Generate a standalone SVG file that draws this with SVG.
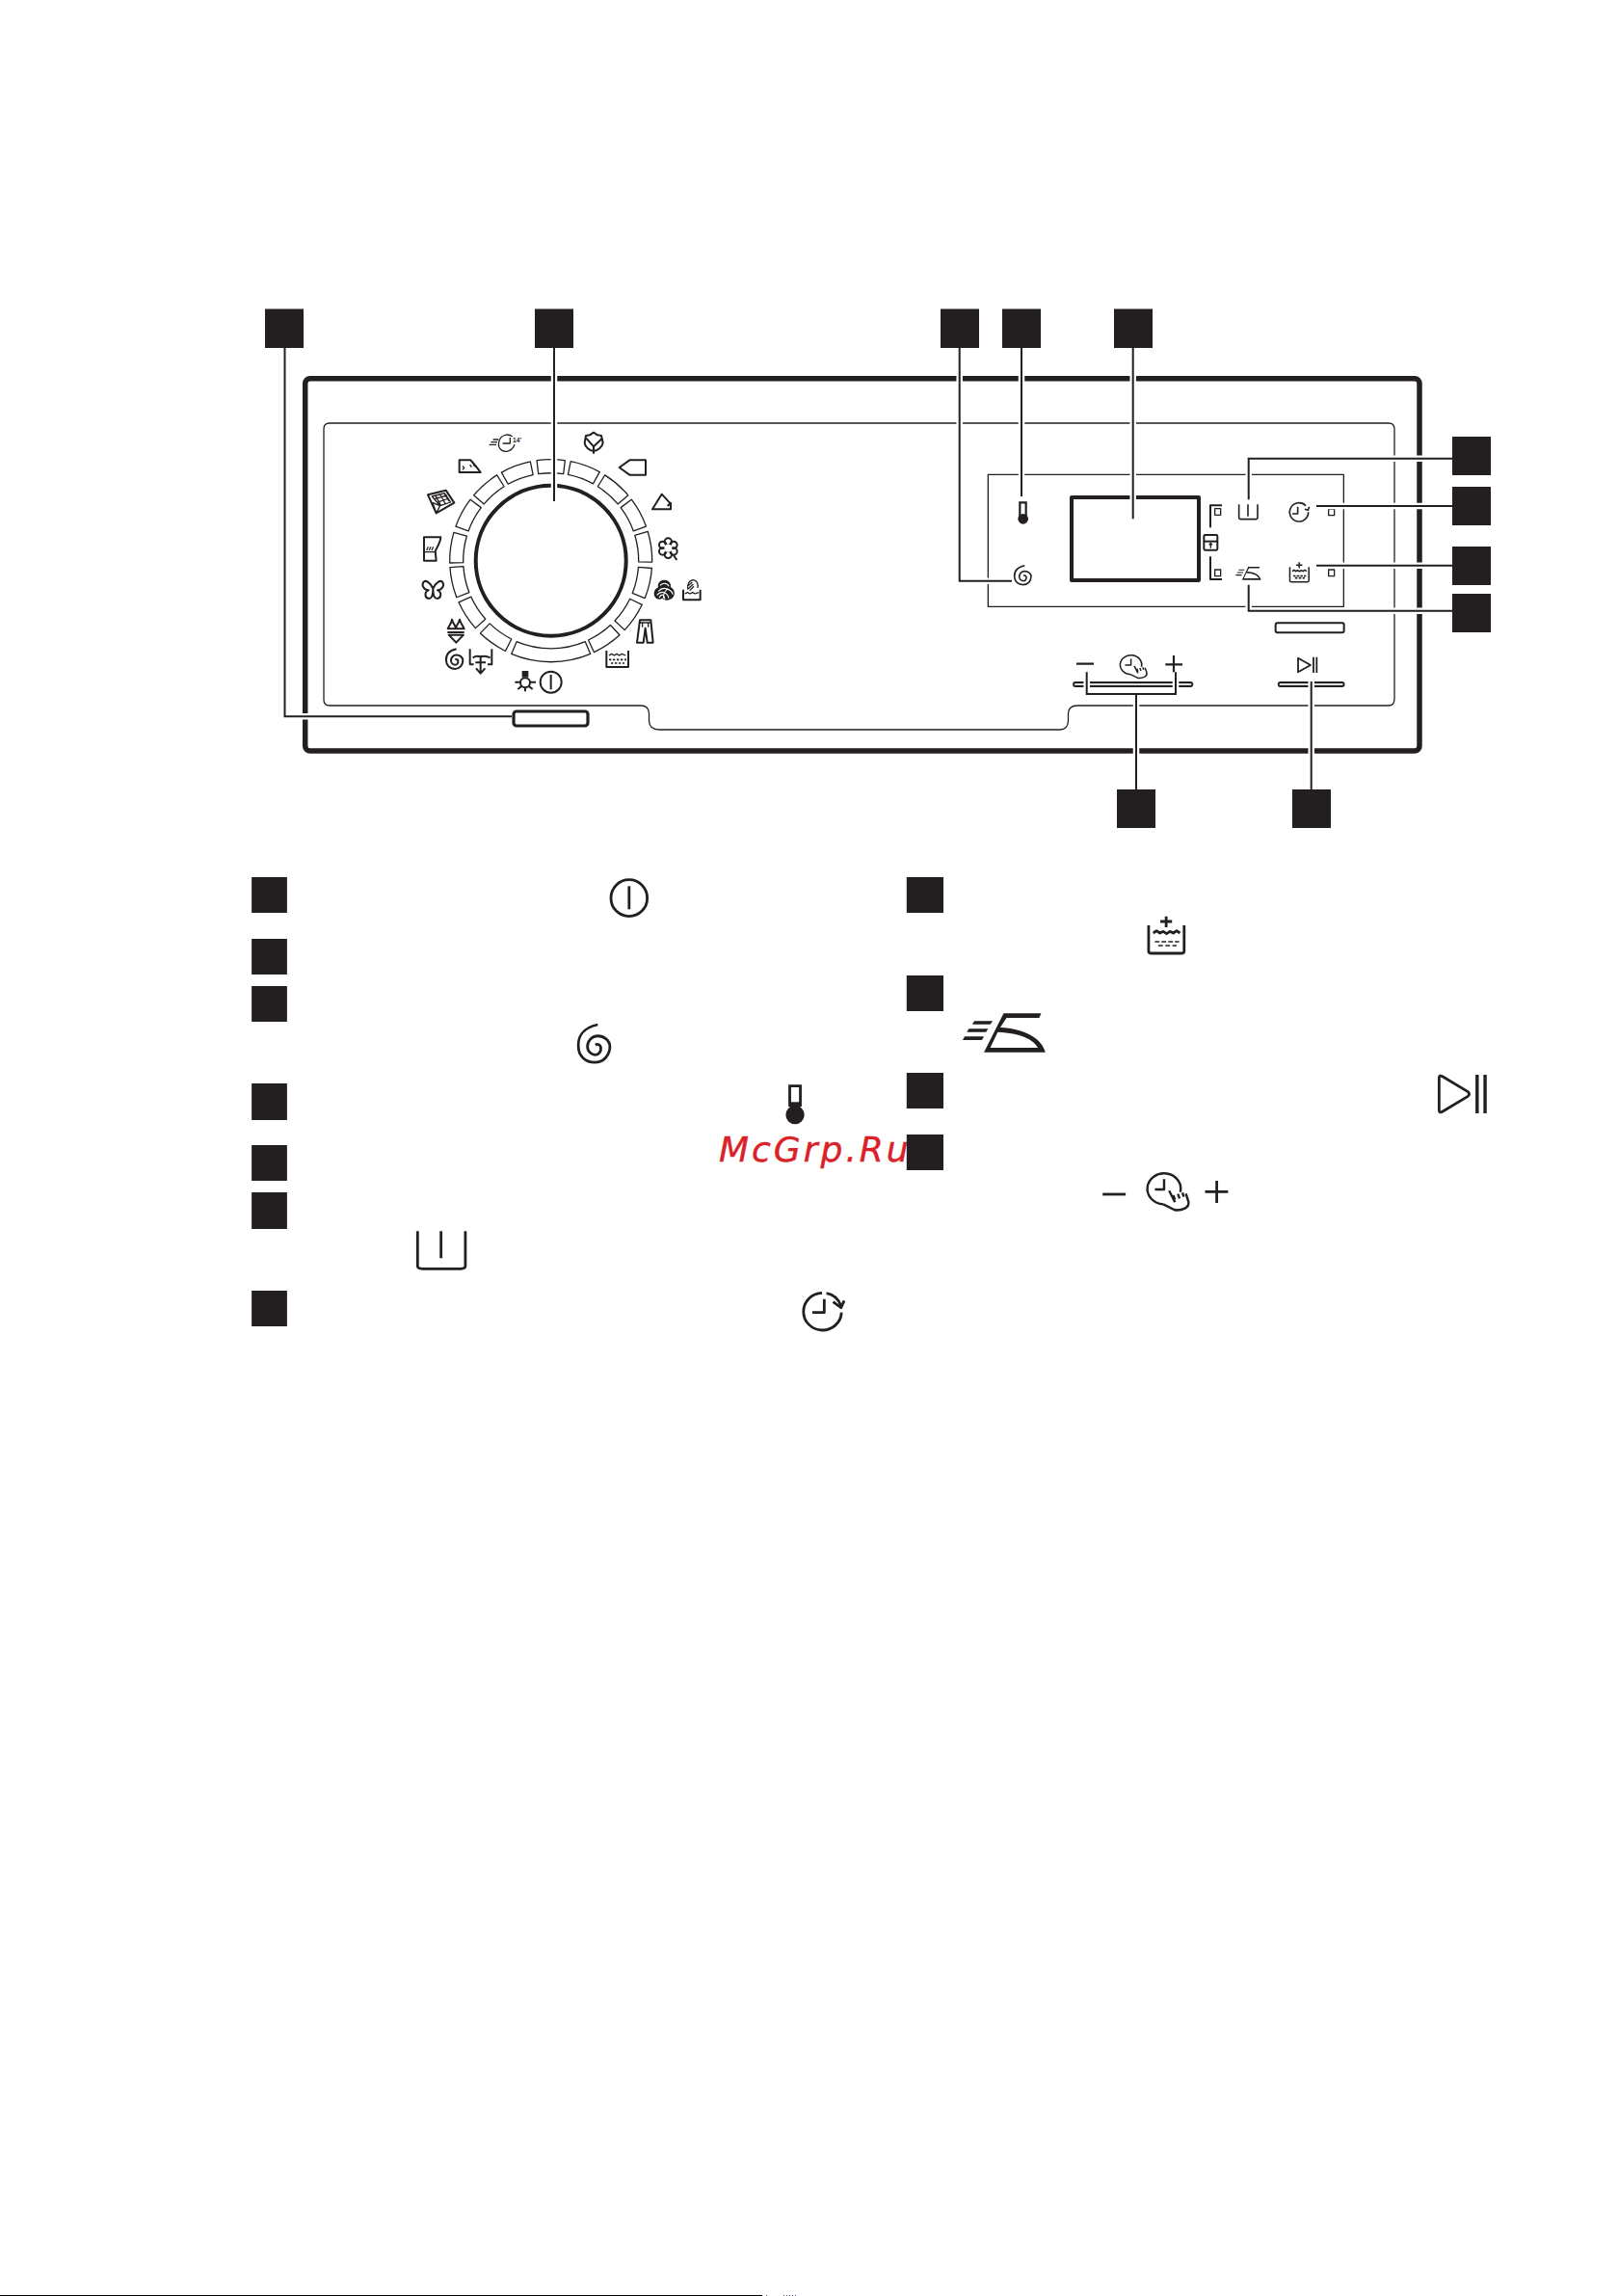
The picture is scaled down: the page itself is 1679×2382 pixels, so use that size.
<svg xmlns="http://www.w3.org/2000/svg" xmlns:xlink="http://www.w3.org/1999/xlink" width="1679" height="2382" viewBox="0 0 1679 2382">
<style>
*{vector-effect:non-scaling-stroke}
.k{fill:#231f20;stroke:none}
.s{fill:none;stroke:#231f20;stroke-width:1.3;stroke-linejoin:round;stroke-linecap:butt}
.m{fill:none;stroke:#231f20;stroke-width:2;stroke-linejoin:round}
.t{fill:none;stroke:#231f20;stroke-width:2.8;stroke-linejoin:round}
.w{fill:#fff;stroke:#231f20;stroke-width:1.3;stroke-linejoin:round}
.h{fill:none;stroke:#fff;stroke-width:6.5}
.c{fill:none;stroke:#231f20;stroke-width:2}
</style>
<defs>
<path id="seg" class="w" d="M-13.84,-89.94A91,91 0 0 1 13.84,-89.94L15.97,-103.78A105,105 0 0 0 -15.97,-103.78Z"/>
<path id="spiral" d="M250,380C225,385 217,400 218,415C218,430 230,440 245,440C260,440 270,428 270,415C270,405 260,398 250,398C240,398 233,406 233,415C233,423 240,428 246,428C252,428 256,422 255,416C254,412 250,410 246,412"/>
<path id="iron" fill-rule="evenodd" d="M210,538H254L248,548H205ZM197,562H243L238,572H192ZM187,586H233L228,597H182ZM280,514H370L365,528H287L272,558C330,562 370,590 380,635H233ZM248,621H362C352,595 320,575 266,572Z"/>
<g id="water">
<path d="M627,240V320Q627,327 634,327H705Q712,327 712,320V240"/>
<path d="M669,212V246M655,228H683"/>
<path d="M638,264L646,257L654,264L662,259L670,266L678,259L686,264L694,257L702,264"/>
<path d="M642,291h11m5,0h11m5,0h11m5,0h10M650,303h11m6,0h11m6,0h10" style="stroke-width:1.6"/>
</g>
<g id="touch">
<path d="M703,1070A40,48 0 1 0 662,1108"/>
<path d="M664,1030V1062H642"/>
<path d="M662,1108L688,1125Q700,1130 715,1120Q725,1112 722,1098L716,1075M676,1066L690,1102M686,1080L690,1094M697,1076L701,1090M708,1072L711,1085"/>
</g>
<g id="timer">
<path d="M1125,194A29,29 0 1 0 1133,214"/>
<path d="M1100,197V219H1083"/>
<path d="M1122,205L1132,208L1136,197"/>
</g>
</defs>
<rect width="1679" height="2382" fill="#fff"/>

<g id="panel-frame">
<rect x="316.7" y="392.7" width="1156.3" height="386.3" rx="5" class="t" style="stroke-width:5.5"/>
<path class="s" d="M342,439H1441Q1447,439 1447,445V725Q1447,732 1441,732H1118Q1109,732 1108.5,740V748Q1108,757 1100,757H684Q674,757 673.5,748V740Q673,732 665,732H342Q336,732 336,726V445Q336,439 342,439Z"/>
</g>

<g id="dial">
<circle cx="571.7" cy="581.7" r="78" fill="#fff" stroke="#231f20" stroke-width="4"/>
<g transform="translate(571.7 581.7)">
<path class="w" d="M-13,-90A91,91 0 0 1 13,-90L14.6,-104A105,105 0 0 0 -14.6,-104Z"/>
<use href="#seg" transform="rotate(20)"/>
<use href="#seg" transform="rotate(41)"/>
<use href="#seg" transform="rotate(61.5)"/>
<use href="#seg" transform="rotate(82)"/>
<use href="#seg" transform="rotate(103)"/>
<use href="#seg" transform="rotate(124.5)"/>
<use href="#seg" transform="rotate(146)"/>
<path class="w" d="M-35.6,84A91,91 0 0 0 35.6,84L41,96.7A105,105 0 0 1 -41,96.7Z"/>
<use href="#seg" transform="rotate(215.5)"/>
<use href="#seg" transform="rotate(237)"/>
<use href="#seg" transform="rotate(257.5)"/>
<use href="#seg" transform="rotate(277.5)"/>
<use href="#seg" transform="rotate(298.5)"/>
<use href="#seg" transform="rotate(319)"/>
<use href="#seg" transform="rotate(339.5)"/>
</g>
</g>

<g id="dial-icons" transform="translate(300 380) scale(.33333)">
<g id="ic-quick" class="s">
<path d="M635,228H652M628,236H648M623,244H645"/>
<path d="M695,218C680,208 660,214 654,232C648,252 660,268 678,265C690,263 698,255 702,244"/>
<path d="M688,222V240H665"/>
<text x="696" y="238" font-family="'Liberation Sans',sans-serif" font-size="20" font-weight="700" fill="#231f20" stroke="none">14'</text>
</g>
<g id="ic-shoe" class="m"><path d="M530,292H565L572,300Q585,315 596,330H530Z"/><path class="s" d="M540,310L545,316L540,322M563,306L568,314M574,306L578,312"/></g>
<g id="ic-grid" class="s"><path class="m" d="M432,400L488,386L514,425L458,457Z"/><path d="M445,405L484,395L503,423L470,434L458,420ZM452,413L492,402M460,424L497,411M456,403L472,432M470,399L486,427M483,396L498,420M447,425L458,457L470,434Z"/></g>
<g id="ic-jacket" class="m"><path d="M420,532H472Q472,545 455,575L458,605H420Z"/><path class="s" d="M420,578H456M428,573L433,562M436,573L441,562M444,573L449,562"/></g>
<g id="ic-butterfly" class="m"><path d="M448,692C440,672 424,664 418,672C411,684 422,697 434,697C420,702 422,722 435,723C445,723 448,705 448,692C448,705 451,723 461,723C474,722 476,702 462,697C474,697 485,684 478,672C472,664 456,672 448,692Z"/></g>
<g id="ic-bikini" class="m"><path d="M494,817C500,805 506,800 507,788C510,800 517,805 519,815C521,805 528,800 531,788C534,800 540,805 545,817Z"/><path d="M493,828H545M497,836H543L520,860Z"/></g>
<use id="ic-spin" href="#spiral" class="m" transform="translate(488 880) scale(1 1.03) translate(-217 -380)"/>
<g id="ic-drain" class="m"><path d="M563,880V928H575M631,880V928H618M572,907Q585,898 596,905Q608,898 626,907M596,900V955M582,940L596,956L610,940M580,922H612"/></g>
<g id="ic-light" class="m"><circle cx="735" cy="985" r="15"/><rect x="725" y="948" width="20" height="20" class="k"/><path d="M703,983H720M750,983H768M735,1000V1012M725,995L712,1005M745,995L758,1005"/></g>
<g id="ic-power" class="m"><circle cx="815" cy="983" r="33"/><path d="M815,960V1006"/></g>
<g id="ic-tub" class="m"><path d="M988,885V936H1056V885"/><path class="s" d="M996,900L1004,895L1012,900L1020,895L1028,900L1036,895L1048,900"/><path d="M996,913h7m5,0h7m5,0h7m5,0h7m5,0h6M1002,924h7m5,0h7m5,0h7m5,0h6" style="stroke-width:1.6"/></g>
<g id="ic-jeans" class="m"><path d="M1092,790H1126L1133,860H1115L1109,815L1103,860H1083Z"/><path class="s" d="M1091,798H1127M1100,798V812M1118,798V812"/></g>
<g id="ic-wool"><path class="k" d="M1168,665C1185,665 1190,680 1188,688C1205,695 1205,725 1178,728C1170,729 1165,725 1162,722C1150,730 1135,722 1136,705C1137,695 1145,690 1149,688C1146,675 1155,665 1168,665Z"/><path fill="none" stroke="#fff" stroke-width="1.1" d="M1155,682C1165,672 1178,675 1183,685M1150,700C1165,682 1190,695 1195,710M1145,712C1160,695 1178,705 1182,722M1152,720C1160,705 1168,712 1170,725M1180,692C1168,700 1165,712 1165,722"/></g>
<g id="ic-handwash" class="s"><path class="m" d="M1227,695V727H1280V695"/><path d="M1232,708L1240,704L1248,708L1256,704L1264,708L1275,704"/><path d="M1241,695Q1238,668 1258,665Q1275,668 1272,690M1240,685L1255,672M1243,692L1258,678M1247,698L1260,685"/></g>
<g id="ic-flower" class="m"><circle cx="1180" cy="546" r="11"/><circle cx="1197" cy="556" r="11"/><circle cx="1197" cy="576" r="11"/><circle cx="1180" cy="586" r="11"/><circle cx="1163" cy="576" r="11"/><circle cx="1163" cy="556" r="11"/><circle cx="1180" cy="566" r="12" fill="#fff" stroke="none"/><path d="M1195,585L1207,603"/></g>
<g id="ic-triangle" class="m"><path d="M1185,425L1160,398L1131,445H1188V425L1178,435"/></g>
<g id="ic-tag" class="m"><path d="M1028,315L1060,292H1110V338H1060Z"/></g>
<g id="ic-cotton" class="m"><path d="M948,206L960,214L972,216L977,238C975,252 960,262 948,264C936,262 921,252 920,238L924,216L936,214Z"/><path d="M925,224L948,250L975,224M948,250V272"/></g>
</g>

<g id="controls" transform="translate(980 460) scale(.33333)">
<rect x="136" y="97" width="1107" height="411" class="s"/>
<rect x="396" y="168" width="396" height="258" class="t" style="stroke-width:4"/>
<g id="ic-temp"><rect x="235" y="184" width="19" height="45" fill="#fff" stroke="#231f20" stroke-width="2.2"/><circle cx="245" cy="235" r="16" class="k"/></g>
<use id="ic-spiral" href="#spiral" class="m" style="stroke-width:1.6"/>
<g id="ic-brackets" class="m"><path d="M828,262V193H864M828,352V423H864"/><rect x="842" y="203" width="18" height="20" class="s"/><rect x="842" y="393" width="18" height="20" class="s"/><rect x="808" y="285" width="42" height="47" rx="4"/><path d="M808,305H850"/><path class="s" d="M829,326V312M824,316L829,310L834,316"/></g>
<g id="ic-basket" class="m" style="stroke-width:1.6"><path d="M917,190V232Q917,236 922,236H970Q975,236 975,232V190M945,190V227"/></g>
<use id="ic-timer" href="#timer" class="m" style="stroke-width:1.6"/>
<rect x="1196" y="204" width="18" height="20" class="s"/>
<rect x="1196" y="393" width="18" height="20" class="s"/>
<rect x="1031" y="559" width="213" height="30" rx="6" class="m"/>
<path class="t" d="M411,686H465M688,688H741M714,660V716" style="stroke-width:2.2"/>
<path class="m" d="M1101,668L1140,690L1101,712ZM1149,665V714M1159,665V714" style="stroke-width:1.8"/>
<rect x="402" y="744" width="370" height="12" rx="6" fill="#ddd" stroke="#231f20" stroke-width="1.8"/>
<rect x="1040" y="744" width="204" height="12" rx="6" fill="#ddd" stroke="#231f20" stroke-width="1.8"/>
</g>
<use id="ic-panel-iron" href="#iron" class="k" transform="translate(1257.5 529.9) scale(.1347 .113)"/>
<use id="ic-panel-water" href="#water" class="m" transform="translate(1193 545.500) scale(.232 .1785)" style="stroke-width:1.5"/>
<use id="ic-panel-touch" href="#touch" class="m" transform="translate(987.7 469.2) scale(.28 .208)" style="stroke-width:1.5"/>

<rect id="power-button" x="533" y="738" width="77" height="15" rx="3" class="t" style="stroke-width:3.2"/>

<g id="connectors">
<g class="h">
<path d="M295.5,361V743.3H531"/><path d="M575,361V520"/><path d="M995.7,361V602.7H1050"/><path d="M1060,361V515"/><path d="M1175.7,361V538.3"/>
<path d="M1507,475.7H1295.7V518.3"/><path d="M1507,525H1366"/><path d="M1507,586.7H1366"/><path d="M1507,633.7H1295.7V606.7"/>
<path d="M1179,819V720"/><path d="M1127.7,697.3V720H1220V697.3"/><path d="M1360.7,819V707"/>
</g>
<g class="c">
<path d="M295.5,361V743.3H531"/><path d="M575,361V520"/><path d="M995.7,361V602.7H1050"/><path d="M1060,361V515"/><path d="M1175.7,361V538.3"/>
<path d="M1507,475.7H1295.7V518.3"/><path d="M1507,525H1366"/><path d="M1507,586.7H1366"/><path d="M1507,633.7H1295.7V606.7"/>
<path d="M1179,819V720"/><path d="M1127.7,697.3V720H1220V697.3"/><path d="M1360.7,819V707"/>
</g>
</g>

<g id="callouts" class="k">
<rect x="275" y="320.500" width="40" height="40.500"/><rect x="555" y="320.500" width="40" height="40.500"/><rect x="976" y="320.500" width="40" height="40.500"/><rect x="1040" y="320.500" width="40" height="40.500"/><rect x="1156" y="320.500" width="40" height="40.500"/>
<rect x="1507" y="453" width="40" height="40"/><rect x="1507" y="505" width="40" height="40"/><rect x="1507" y="567" width="40" height="40"/><rect x="1507" y="616" width="40" height="40"/>
<rect x="1159" y="819" width="40" height="40"/><rect x="1341" y="819" width="40" height="40"/>
</g>

<text id="watermark" x="746" y="1205" font-family="'DejaVu Sans',sans-serif" font-style="oblique" font-size="36" letter-spacing="3" fill="#da2128" stroke="#da2128" stroke-width=".4">McGrp.Ru</text>

<g id="legend-left" transform="translate(240 880) scale(.4592 .33333)">
<g class="k">
<rect x="46" y="90" width="80" height="111"/><rect x="46" y="282" width="80" height="111"/><rect x="46" y="429" width="80" height="111"/><rect x="46" y="732" width="80" height="114"/><rect x="46" y="924" width="80" height="111"/><rect x="46" y="1071" width="80" height="114"/><rect x="46" y="1377" width="80" height="111"/>
</g>
<g id="lg-power" class="t"><ellipse cx="899" cy="155" rx="41" ry="57"/><path d="M899,118V190"/></g>
<use id="lg-spiral" href="#spiral" class="t" transform="translate(783 549) scale(1.37 1.96) translate(-217 -380)"/>
<g id="lg-temp"><rect x="1262" y="740" width="24" height="60" fill="#fff" stroke="#231f20" stroke-width="2.8"/><ellipse cx="1274" cy="830" rx="21" ry="29" class="k"/><rect x="1262" y="790" width="24" height="20" class="k"/></g>
<path id="lg-basket" class="t" d="M421,1192V1300Q421,1309 432,1309H518Q529,1309 529,1300V1192M474,1192V1276"/>
<g id="lg-timer" class="t"><path d="M1335,1384A43,58 0 1 0 1379,1445"/><path d="M1345,1385Q1370,1392 1378,1425"/><path d="M1340,1403V1445H1313"/><path d="M1360,1412L1378,1430L1385,1408"/></g>
</g>

<g id="legend-right" transform="translate(920 880) scale(.4337 .33333)">
<g class="k">
<rect x="48" y="90" width="88" height="111"/><rect x="48" y="396" width="88" height="111"/><rect x="48" y="699" width="88" height="111"/><rect x="48" y="891" width="88" height="111"/>
</g>
<use id="lg-water" href="#water" class="t"/>
<use id="lg-iron" href="#iron" class="k"/>
<g id="lg-play" class="t"><path d="M1322,715Q1322,704 1331,711L1391,758Q1397,765 1391,772L1331,819Q1322,826 1322,815Z"/><path d="M1413,705V825M1432,705V825" style="stroke-width:3.4"/></g>
<path id="lg-minus" class="t" d="M517,1077H572"/>
<use id="lg-touch" href="#touch" class="t" style="stroke-width:2.4"/>
<path id="lg-plus" class="t" d="M762,1069H817M790,1035V1104"/>
</g>

<g id="page-edge">
<rect x="0" y="2381" width="791" height="1" fill="#000"/>
<rect x="795" y="2381" width="1" height="1" fill="#555"/>
<path d="M813,2381.500H827" stroke="#446" stroke-width="1" stroke-dasharray="1 2"/>
</g>
</svg>
